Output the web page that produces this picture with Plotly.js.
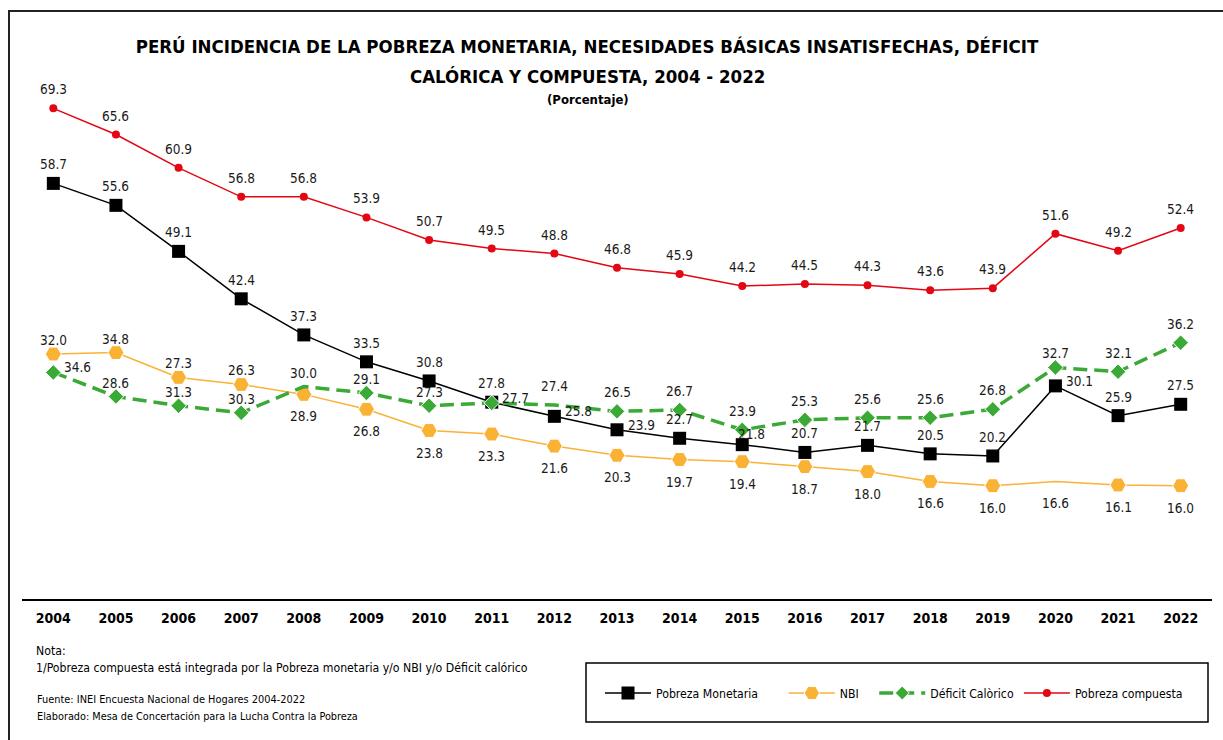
<!DOCTYPE html>
<html>
<head>
<meta charset="utf-8">
<script src="https://cdn.plot.ly/plotly-3.0.1.min.js"></script>
<style>
  html, body { margin: 0; padding: 0; background: #fff; }
  #wrap { position: relative; width: 1223px; height: 740px; }
  #chart { width: 1223px; height: 740px; }
  #frame { position: absolute; left: 8px; top: 10px; right: 0; bottom: 0;
           border-top: 2px solid #222; border-left: 2px solid #222; pointer-events: none; }
</style>
</head>
<body>
<div id="wrap">
  <div id="chart"></div>
  <div id="frame"></div>
</div>
<script>
// ---- Data ----
const years = [2004,2005,2006,2007,2008,2009,2010,2011,2012,2013,2014,2015,2016,2017,2018,2019,2020,2021,2022];

const pobrezaMonetaria = [58.7,55.6,49.1,42.4,37.3,33.5,30.8,27.8,25.8,23.9,22.7,21.8,20.7,21.7,20.5,20.2,30.1,25.9,27.5];
const nbi              = [34.6,34.8,31.3,30.3,28.9,26.8,23.8,23.3,21.6,20.3,19.7,19.4,18.7,18.0,16.6,16.0,16.6,16.1,16.0];
const deficitCalorico  = [32.0,28.6,27.3,26.3,30.0,29.1,27.3,27.7,27.4,26.5,26.7,23.9,25.3,25.6,25.6,26.8,32.7,32.1,36.2];
const pobrezaCompuesta = [69.3,65.6,60.9,56.8,56.8,53.9,50.7,49.5,48.8,46.8,45.9,44.2,44.5,44.3,43.6,43.9,51.6,49.2,52.4];

// Data labels exactly as printed in the source chart
const labelsMonetaria = ["58.7","55.6","49.1","42.4","37.3","33.5","30.8","27.8","25.8","23.9","22.7","21.8","20.7","21.7","20.5","20.2","30.1","25.9","27.5"];
const labelsNbi       = ["32.0","34.8","27.3","26.3","28.9","26.8","23.8","23.3","21.6","20.3","19.7","19.4","18.7","18.0","16.6","16.0","16.6","16.1","16.0"];
const labelsDeficit   = ["34.6","28.6","31.3","30.3","30.0","29.1","27.3","27.7","27.4","26.5","26.7","23.9","25.3","25.6","25.6","26.8","32.7","32.1","36.2"];
const labelsCompuesta = ["69.3","65.6","60.9","56.8","56.8","53.9","50.7","49.5","48.8","46.8","45.9","44.2","44.5","44.3","43.6","43.9","51.6","49.2","52.4"];

// ---- Label placement (style) ----
const posMonetaria = ["t","t","t","t","t","t","t","t","r","r","t","tr","t","t","t","t","r","t","t"];
const posNbi       = ["ts","ts","ts","ts","b","b","b","b","b","b","b","b","b","b","b","b","b","b","b"];
const posDeficit   = ["r","ts","ts","ts","ts","ts","ts","r","t","t","t","t","t","t","t","t","ts","t","t"];
const posCompuesta = ["t","t","t","t","t","t","t","t","t","t","t","t","t","t","t","t","t","t","t"];
const shifts = { t:[0,19], ts:[0,14], b:[0,-22], r:[24,5], tr:[9,11] };

const FONT = '"DejaVu Sans Condensed", "Liberation Sans Narrow", sans-serif';
const C_BLACK = '#000000', C_NBI = '#F9B233', C_DEF = '#3AA935', C_RED = '#E30613';
const NB = '\u00A0';

function labelAnnotations(vals, labels, pos) {
  return vals.map((v, i) => ({
    x: years[i], y: v, xref: 'x', yref: 'y', text: labels[i], showarrow: false,
    xshift: shifts[pos[i]][0], yshift: shifts[pos[i]][1],
    font: { family: FONT, size: 13.5, color: '#1a1a1a' }
  }));
}

const traces = [
  { x: years, y: pobrezaMonetaria, name: 'Pobreza Monetaria' + NB.repeat(6), type: 'scatter', mode: 'lines+markers',
    line: { color: C_BLACK, width: 1.5 }, marker: { symbol: 'square', size: 13, color: C_BLACK, opacity: 1 } },
  { x: years, y: nbi, name: 'NBI' + NB.repeat(3), type: 'scatter', mode: 'lines+markers',
    line: { color: C_NBI, width: 1.5 },
    marker: { symbol: 'hexagon2', size: years.map(y => y === 2020 ? 0 : 16), color: C_NBI, opacity: 1 } },
  { x: years, y: deficitCalorico, name: 'Déficit Calòrico', type: 'scatter', mode: 'lines+markers',
    line: { color: C_DEF, width: 3.5, dash: '14px,7px' },
    marker: { symbol: 'diamond', size: years.map(y => (y === 2008 || y === 2012) ? 0 : 12), color: C_DEF, opacity: 1 } },
  { x: years, y: pobrezaCompuesta, name: 'Pobreza compuesta', type: 'scatter', mode: 'lines+markers',
    line: { color: C_RED, width: 1.5 }, marker: { symbol: 'circle', size: 8, color: C_RED, opacity: 1 } }
];

// plot area: left 22, right 1212, top 68, bottom 599
const L = 22, R = 1212, T = 68, B = 599;
const px2x = p => (p - L) / (R - L);
const py2y = p => (B - p) / (B - T);

const annotations = []
  .concat(labelAnnotations(pobrezaMonetaria, labelsMonetaria, posMonetaria))
  .concat(labelAnnotations(nbi, labelsNbi, posNbi))
  .concat(labelAnnotations(deficitCalorico, labelsDeficit, posDeficit))
  .concat(labelAnnotations(pobrezaCompuesta, labelsCompuesta, posCompuesta))
  .concat([
    { xref: 'paper', yref: 'paper', x: px2x(587), y: py2y(77), text: '<b>CALÓRICA Y COMPUESTA, 2004 - 2022</b>', showarrow: false,
      font: { family: FONT, size: 18.5, color: '#000' }, xanchor: 'center', yanchor: 'middle' },
    { xref: 'paper', yref: 'paper', x: px2x(588), y: py2y(100), text: '<b>(Porcentaje)</b>', showarrow: false,
      font: { family: FONT, size: 13, color: '#000' }, xanchor: 'center', yanchor: 'middle' },
    { xref: 'paper', yref: 'paper', x: px2x(34), y: py2y(651), text: 'Nota:', showarrow: false,
      font: { family: FONT, size: 12.2, color: '#000' }, xanchor: 'left', yanchor: 'middle' },
    { xref: 'paper', yref: 'paper', x: px2x(34), y: py2y(668), text: '1/Pobreza compuesta está integrada por la Pobreza monetaria y/o NBI y/o Déficit calórico', showarrow: false,
      font: { family: FONT, size: 12.2, color: '#000' }, xanchor: 'left', yanchor: 'middle' },
    { xref: 'paper', yref: 'paper', x: px2x(35), y: py2y(699), text: 'Fuente: INEI Encuesta Nacional de Hogares 2004-2022', showarrow: false,
      font: { family: FONT, size: 10.9, color: '#000' }, xanchor: 'left', yanchor: 'middle' },
    { xref: 'paper', yref: 'paper', x: px2x(35), y: py2y(716), text: 'Elaborado: Mesa de Concertación para la Lucha Contra la Pobreza', showarrow: false,
      font: { family: FONT, size: 10.8, color: '#000' }, xanchor: 'left', yanchor: 'middle' }
  ]);

const layout = {
  width: 1223, height: 740,
  margin: { l: L, r: 1223 - R, t: T, b: 740 - B },
  paper_bgcolor: '#ffffff', plot_bgcolor: '#ffffff',
  font: { family: FONT, color: '#000' },
  title: {
    text: 'PERÚ INCIDENCIA DE LA POBREZA MONETARIA, NECESIDADES BÁSICAS INSATISFECHAS, DÉFICIT',
    font: { family: FONT, size: 18.5, color: '#000', weight: 'bold' },
    x: 587 / 1223, xanchor: 'center', xref: 'container',
    y: 1 - 47 / 740, yanchor: 'middle', yref: 'container'
  },
  xaxis: {
    range: [2003.5, 2022.5], tickvals: years, ticktext: years.map(String),
    showline: true, linecolor: '#000', linewidth: 1.5, showgrid: false, zeroline: false,
    ticks: 'outside', ticklen: 6, tickcolor: 'rgba(0,0,0,0)',
    tickfont: { family: FONT, size: 14, color: '#000', weight: 'bold' }, fixedrange: true
  },
  yaxis: {
    range: [0, 75], visible: false, showgrid: false, zeroline: false, fixedrange: true
  },
  showlegend: true,
  legend: {
    orientation: 'h', x: px2x(600), y: py2y(693), xanchor: 'left', yanchor: 'middle',
    xref: 'paper', yref: 'paper', bgcolor: 'rgba(0,0,0,0)', borderwidth: 0,
    font: { family: FONT, size: 12.2, color: '#000' }, itemwidth: 46
  },
  shapes: [
    { type: 'rect', xref: 'paper', yref: 'paper', x0: px2x(586), x1: px2x(1208), y0: py2y(722), y1: py2y(663),
      line: { color: '#000', width: 1.5 }, fillcolor: 'rgba(0,0,0,0)' }
  ],
  annotations: annotations
};

Plotly.newPlot('chart', traces, layout, { displayModeBar: false, staticPlot: true });
</script>
</body>
</html>
